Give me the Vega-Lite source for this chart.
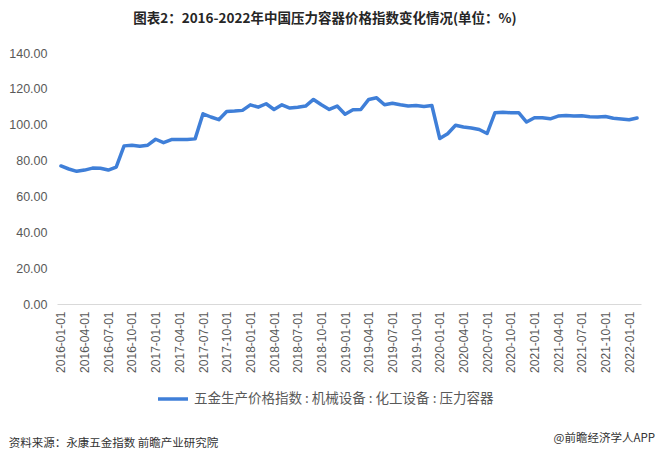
{
  "$schema": "https://vega.github.io/schema/vega-lite/v6.json",
  "background": "white",
  "padding": {"left": 8, "top": 11, "right": 6, "bottom": 8},
  "title": {"text": "@前瞻经济学人APP", "orient": "bottom", "anchor": "end", "font": "Noto Sans CJK SC", "fontSize": 11.5, "fontWeight": "normal", "color": "#333333", "offset": -17, "dx": 14},
  "config": {"view": {"stroke": null}, "concat": {"spacing": 0}},
  "resolve": {"scale": {"color": "independent"}, "legend": {"color": "independent"}},
  "vconcat": [
    {
      "title": {"text": "资料来源：永康五金指数 前瞻产业研究院", "orient": "bottom", "anchor": "start", "font": "Noto Sans CJK SC", "fontSize": 11.5, "fontWeight": "normal", "color": "#333333", "offset": 32},
      "resolve": {"scale": {"color": "independent"}, "legend": {"color": "independent"}},
      "vconcat": [
        {
          "width": 584,
          "height": 251,
          "title": {"text": "图表2：2016-2022年中国压力容器价格指数变化情况(单位：%)", "font": "Noto Sans CJK SC", "fontSize": 13.5, "fontWeight": "bold", "color": "#262626", "anchor": "middle", "frame": "bounds", "offset": 22},
          "data": {"values": [
            {"date": "2016-01-01", "value": 77.0},
            {"date": "2016-02-01", "value": 75.3},
            {"date": "2016-03-01", "value": 74.0},
            {"date": "2016-04-01", "value": 74.7},
            {"date": "2016-05-01", "value": 75.8},
            {"date": "2016-06-01", "value": 75.7},
            {"date": "2016-07-01", "value": 74.7},
            {"date": "2016-08-01", "value": 76.4},
            {"date": "2016-09-01", "value": 88.2},
            {"date": "2016-10-01", "value": 88.6},
            {"date": "2016-11-01", "value": 88.0},
            {"date": "2016-12-01", "value": 88.6},
            {"date": "2017-01-01", "value": 91.9},
            {"date": "2017-02-01", "value": 90.0},
            {"date": "2017-03-01", "value": 91.7},
            {"date": "2017-04-01", "value": 91.7},
            {"date": "2017-05-01", "value": 91.7},
            {"date": "2017-06-01", "value": 92.1},
            {"date": "2017-07-01", "value": 106.1},
            {"date": "2017-08-01", "value": 104.3},
            {"date": "2017-09-01", "value": 102.8},
            {"date": "2017-10-01", "value": 107.4},
            {"date": "2017-11-01", "value": 107.6},
            {"date": "2017-12-01", "value": 108.0},
            {"date": "2018-01-01", "value": 111.1},
            {"date": "2018-02-01", "value": 109.8},
            {"date": "2018-03-01", "value": 111.7},
            {"date": "2018-04-01", "value": 108.5},
            {"date": "2018-05-01", "value": 111.1},
            {"date": "2018-06-01", "value": 109.3},
            {"date": "2018-07-01", "value": 109.8},
            {"date": "2018-08-01", "value": 110.4},
            {"date": "2018-09-01", "value": 114.1},
            {"date": "2018-10-01", "value": 111.1},
            {"date": "2018-11-01", "value": 108.5},
            {"date": "2018-12-01", "value": 110.4},
            {"date": "2019-01-01", "value": 105.8},
            {"date": "2019-02-01", "value": 108.3},
            {"date": "2019-03-01", "value": 108.5},
            {"date": "2019-04-01", "value": 114.1},
            {"date": "2019-05-01", "value": 115.0},
            {"date": "2019-06-01", "value": 111.1},
            {"date": "2019-07-01", "value": 112.0},
            {"date": "2019-08-01", "value": 111.1},
            {"date": "2019-09-01", "value": 110.4},
            {"date": "2019-10-01", "value": 110.7},
            {"date": "2019-11-01", "value": 110.2},
            {"date": "2019-12-01", "value": 110.7},
            {"date": "2020-01-01", "value": 92.3},
            {"date": "2020-02-01", "value": 95.0},
            {"date": "2020-03-01", "value": 99.7},
            {"date": "2020-04-01", "value": 98.7},
            {"date": "2020-05-01", "value": 98.2},
            {"date": "2020-06-01", "value": 97.3},
            {"date": "2020-07-01", "value": 95.1},
            {"date": "2020-08-01", "value": 106.7},
            {"date": "2020-09-01", "value": 107.0},
            {"date": "2020-10-01", "value": 106.7},
            {"date": "2020-11-01", "value": 106.7},
            {"date": "2020-12-01", "value": 101.5},
            {"date": "2021-01-01", "value": 103.9},
            {"date": "2021-02-01", "value": 103.9},
            {"date": "2021-03-01", "value": 103.3},
            {"date": "2021-04-01", "value": 104.8},
            {"date": "2021-05-01", "value": 105.2},
            {"date": "2021-06-01", "value": 104.8},
            {"date": "2021-07-01", "value": 105.0},
            {"date": "2021-08-01", "value": 104.5},
            {"date": "2021-09-01", "value": 104.3},
            {"date": "2021-10-01", "value": 104.6},
            {"date": "2021-11-01", "value": 103.6},
            {"date": "2021-12-01", "value": 103.2},
            {"date": "2022-01-01", "value": 102.8},
            {"date": "2022-02-01", "value": 103.7}
          ]},
          "mark": {"type": "line", "strokeWidth": 3.5, "strokeJoin": "round", "strokeCap": "round"},
          "encoding": {
            "x": {"field": "date", "type": "ordinal", "sort": null,
                  "scale": {"type": "point", "padding": 0.5},
                  "axis": {"title": null, "labelAngle": -90, "ticks": false, "domainColor": "#d9d9d9", "domainWidth": 1,
                           "labelFont": "Liberation Sans", "labelFontSize": 12, "labelColor": "#595959", "labelPadding": 7,
                           "values": ["2016-01-01","2016-04-01","2016-07-01","2016-10-01","2017-01-01","2017-04-01","2017-07-01","2017-10-01","2018-01-01","2018-04-01","2018-07-01","2018-10-01","2019-01-01","2019-04-01","2019-07-01","2019-10-01","2020-01-01","2020-04-01","2020-07-01","2020-10-01","2021-01-01","2021-04-01","2021-07-01","2021-10-01","2022-01-01"]}},
            "y": {"field": "value", "type": "quantitative",
                  "scale": {"domain": [0, 140], "nice": false},
                  "axis": {"title": null, "values": [0,20,40,60,80,100,120,140], "format": ".2f", "grid": false, "domain": false, "ticks": false,
                           "labelFont": "Liberation Sans", "labelFontSize": 12.5, "labelColor": "#595959", "labelPadding": 10}},
            "color": {"datum": "五金生产价格指数 : 机械设备 : 化工设备 : 压力容器", "type": "nominal",
                      "scale": {"range": ["#3f7fd8"]},
                      "legend": {"title": null, "orient": "none", "legendX": 99, "legendY": 329, "direction": "horizontal", "symbolType": "stroke", "symbolSize": 900, "symbolStrokeWidth": 3.5, "labelLimit": 500,
                                 "labelFont": "Noto Sans CJK SC", "labelFontSize": 13.5, "labelColor": "#595959"}}
          }
        }
      ]
    }
  ]
}
